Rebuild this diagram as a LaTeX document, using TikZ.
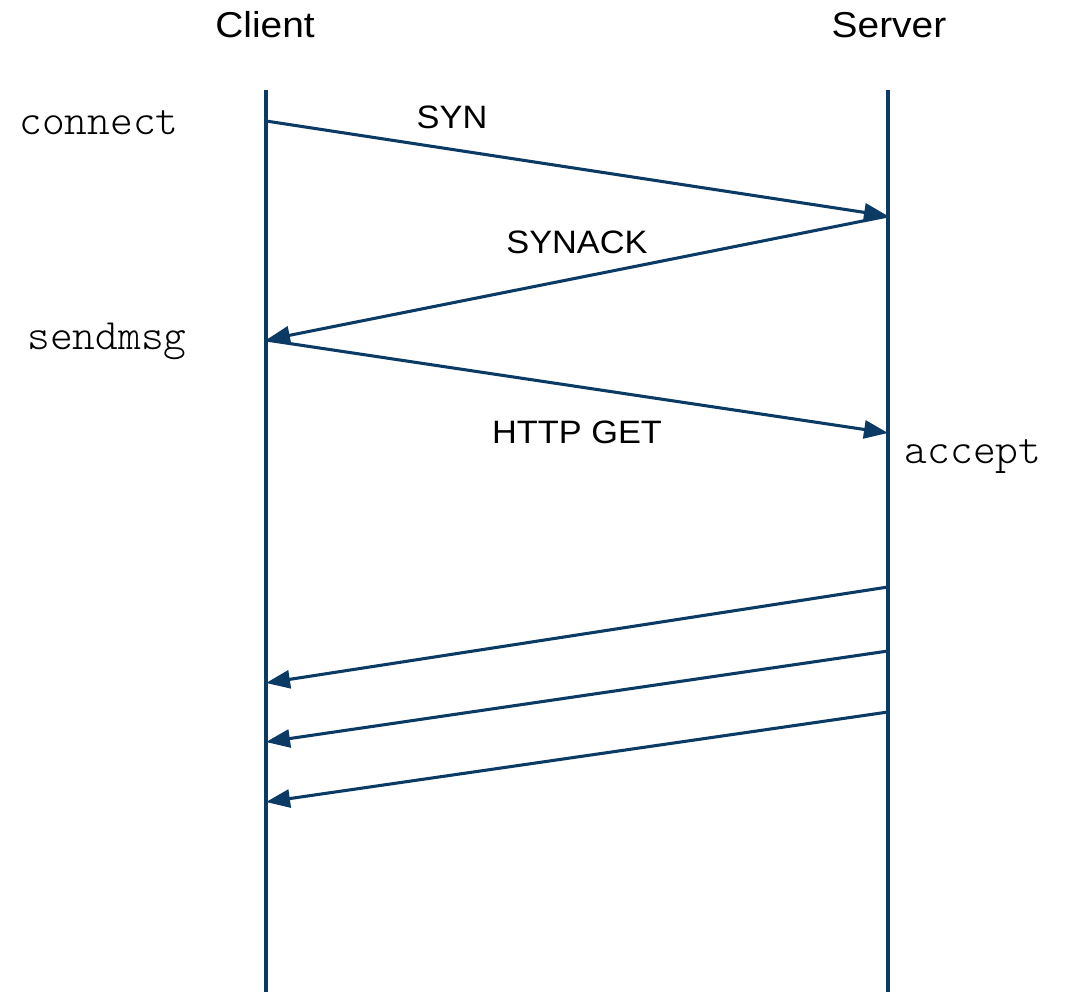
\documentclass[tikz,border=0pt]{standalone}
\usepackage{fontspec}
\setmainfont{Liberation Sans}
\newfontfamily\callfont{Latin Modern Mono Light}
\usetikzlibrary{arrows.meta}
\definecolor{seqblue}{HTML}{0B3A65}
\tikzset{
  lifeline/.style={draw=seqblue, line width=2.3pt},
  msg/.style={draw=seqblue, line width=2.3pt,
    -{Triangle[length=18pt,width=13.5pt]}, fill=seqblue},
  header/.style={anchor=base, inner sep=0pt, font=\fontsize{27}{32}\selectfont},
  msglabel/.style={anchor=base, inner sep=0pt, font=\fontsize{24.3}{29}\selectfont},
  call/.style={anchor=base, inner sep=0pt, font=\fontsize{32.5}{38}\callfont},
}
\newcommand{\widetext}[2]{\scalebox{#1}[1]{#2}}
\begin{document}
\begin{tikzpicture}[x=0.75pt, y=-0.75pt]
  \useasboundingbox (0,0) rectangle (1065,992);

  % lifelines
  \coordinate (ctop) at (266,90);
  \coordinate (cbot) at (266,992);
  \coordinate (stop) at (888,90);
  \coordinate (sbot) at (888,992);
  \draw[lifeline] (ctop) -- (cbot);
  \draw[lifeline] (stop) -- (sbot);

  % participants
  \node[header] (client) at (265,37) {\widetext{1.08}{Client}};
  \node[header] (server) at (889,37) {\widetext{1.08}{Server}};

  % socket calls
  \node[call] (connect) at (99,134) {connect};
  \node[call] (sendmsg) at (107,349) {sendmsg};
  \node[call] (accept) at (973,463) {accept};

  % message points on the lifelines
  \coordinate (c1) at (266,121);
  \coordinate (s1) at (888,216);
  \coordinate (c2) at (266,340);
  \coordinate (s3) at (888,433);
  \coordinate (s4) at (888,587);
  \coordinate (c4) at (266,683);
  \coordinate (s5) at (888,651);
  \coordinate (c5) at (266,742);
  \coordinate (s6) at (888,712);
  \coordinate (c6) at (266,802);

  % handshake and request
  \draw[msg] (c1) -- (s1);
  \draw[msg] (s1) -- (c2);
  \draw[msg] (c2) -- (s3);

  % response segments
  \draw[msg] (s4) -- (c4);
  \draw[msg] (s5) -- (c5);
  \draw[msg] (s6) -- (c6);

  % message labels
  \node[msglabel] (syn) at (452,128) {\widetext{1.06}{SYN}};
  \node[msglabel] (synack) at (577,253) {\widetext{1.06}{SYNACK}};
  \node[msglabel] (get) at (577,443) {\widetext{1.06}{HTTP GET}};
\end{tikzpicture}
\end{document}
